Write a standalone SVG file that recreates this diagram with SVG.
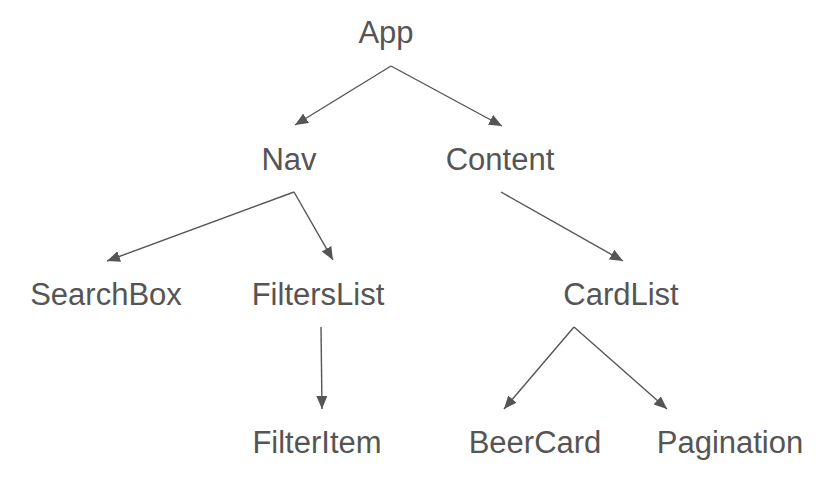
<svg xmlns="http://www.w3.org/2000/svg" width="827" height="490" viewBox="0 0 827 490">
<style>
.lbl{font-family:"Liberation Sans",Arial,sans-serif;font-size:31px;fill:#555555;text-anchor:middle}
.edge{stroke:#555555;stroke-width:1.4;fill:none;marker-end:url(#arr)}
</style>
<defs>
<marker id="arr" markerUnits="userSpaceOnUse" markerWidth="14" markerHeight="12" refX="13" refY="5.5" orient="auto">
<path d="M0,0 L13,5.5 L0,11 z" fill="#555555"/>
</marker>
</defs>
<rect width="827" height="490" fill="#ffffff"/>
<g id="connectors">
<line class="edge" x1="391" y1="66" x2="295" y2="125"/>
<line class="edge" x1="391" y1="66" x2="502" y2="126"/>
<line class="edge" x1="294" y1="192" x2="107" y2="261"/>
<line class="edge" x1="294" y1="192" x2="333" y2="260"/>
<line class="edge" x1="501" y1="192" x2="623" y2="261"/>
<line class="edge" x1="321" y1="327" x2="322" y2="409"/>
<line class="edge" x1="574" y1="327" x2="504" y2="409"/>
<line class="edge" x1="574" y1="327" x2="667" y2="409"/>
</g>
<g id="node-app"><text class="lbl" x="386" y="43">App</text></g>
<g id="node-nav"><text class="lbl" x="289" y="170">Nav</text></g>
<g id="node-content"><text class="lbl" x="500" y="170">Content</text></g>
<g id="node-searchbox"><text class="lbl" x="106" y="305">SearchBox</text></g>
<g id="node-filterslist"><text class="lbl" x="318" y="305">FiltersList</text></g>
<g id="node-cardlist"><text class="lbl" x="621" y="305">CardList</text></g>
<g id="node-filteritem"><text class="lbl" x="317" y="453">FilterItem</text></g>
<g id="node-beercard"><text class="lbl" x="535" y="453">BeerCard</text></g>
<g id="node-pagination"><text class="lbl" x="730" y="453">Pagination</text></g>
</svg>
